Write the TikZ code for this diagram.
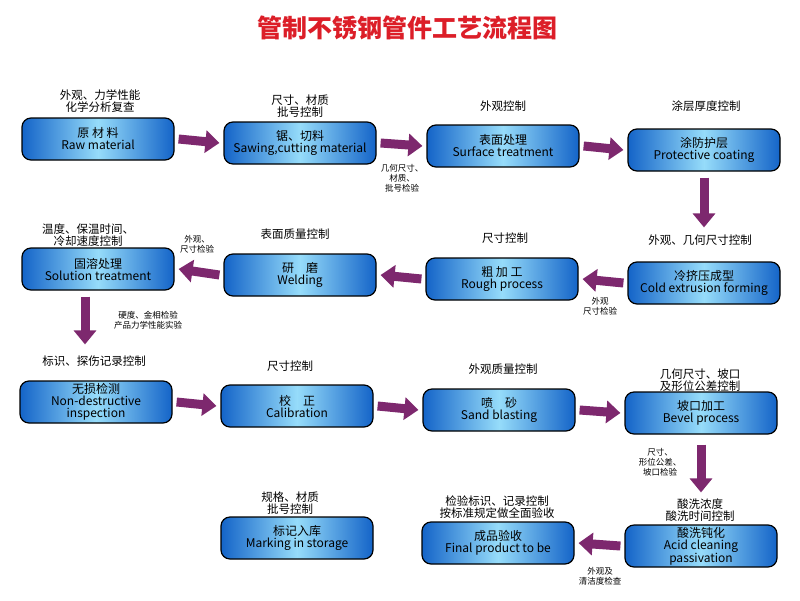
\documentclass[tikz,border=0pt]{standalone}
\usepackage{fontspec}
\setmainfont{Noto Sans CJK SC}
\usetikzlibrary{arrows.meta}
\definecolor{bdark}{RGB}{20,100,200}
\definecolor{blight}{RGB}{150,220,250}
\definecolor{purp}{RGB}{125,40,110}
\definecolor{ttl}{RGB}{220,30,40}
\tikzset{
  box/.style={draw=black,line width=1.2pt,rounded corners=9pt,minimum width=152pt,minimum height=42pt,
    left color=bdark,right color=bdark,middle color=blight,align=center,font=\fontsize{12}{12}\selectfont,inner sep=1pt},
  lab/.style={align=center,font=\fontsize{11.5}{12}\selectfont},
  sml/.style={align=center,font=\fontsize{8.5}{10}\selectfont},
  fat/.style={draw=purp,line width=9pt,-{Triangle[width=22pt,length=14pt]}}
}
\begin{document}
\begin{tikzpicture}[x=1pt,y=-1pt]
\useasboundingbox[fill=white] (0,0) rectangle (800,600);
\node[font=\fontsize{25}{26}\selectfont\bfseries,text=ttl] (t) at (407,28) {管制不锈钢管件工艺流程图};
% row 1
\node[box] (a1) at (98,139) {原 材 料\\Raw material};
\node[box] (a2) at (300,143) {锯、切料\\Sawing,cutting material};
\node[box] (a3) at (503,146) {表面处理\\Surface treatment};
\node[box] (a4) at (704,150) {涂防护层\\Protective coating};
% row 2
\node[box] (b1) at (98,269) {固溶处理\\Solution treatment};
\node[box] (b2) at (300,275) {研　磨\\Welding};
\node[box] (b3) at (502,279) {粗 加 工\\Rough process};
\node[box] (b4) at (704,283) {冷挤压成型\\Cold extrusion forming};
% row 3
\node[box] (c1) at (96,402) {无损检测\\Non-destructive\\inspection};
\node[box] (c2) at (297,406) {校　正\\Calibration};
\node[box] (c3) at (499,410) {喷　砂\\Sand blasting};
\node[box] (c4) at (701,413) {坡口加工\\Bevel process};
% row 4
\node[box] (d1) at (297,538) {标记入库\\Marking in storage};
\node[box] (d2) at (498,543) {成品验收\\Final product to be};
\node[box] (d3) at (701,546) {酸洗钝化\\Acid cleaning\\passivation};
% arrows
\draw[fat] ([xshift=4]a1.east) -- ([xshift=-4]a2.west);
\draw[fat] ([xshift=4]a2.east) -- ([xshift=-4]a3.west);
\draw[fat] ([xshift=4]a3.east) -- ([xshift=-4]a4.west);
\draw[fat] ([yshift=-6]a4.south) -- ([yshift=34]b4.north);
\draw[fat] ([xshift=-4]b4.west) -- ([xshift=4]b3.east);
\draw[fat] ([xshift=-4]b3.west) -- ([xshift=4]b2.east);
\draw[fat] ([xshift=-4]b2.west) -- ([xshift=4]b1.east);
\draw[fat] ([xshift=-13,yshift=-6]b1.south) -- ([xshift=-11,yshift=36]c1.north);
\draw[fat] ([xshift=4]c1.east) -- ([xshift=-4]c2.west);
\draw[fat] ([xshift=4]c2.east) -- ([xshift=-4]c3.west);
\draw[fat] ([xshift=4]c3.east) -- ([xshift=-4]c4.west);
\draw[fat] ([yshift=-10]c4.south) -- ([yshift=32]d3.north);
\draw[fat] ([xshift=-4]d3.west) -- ([xshift=4]d2.east);
% labels
\node[lab] (l1) at (100,101) {外观、力学性能\\化学分析复查};
\node[lab] (l2) at (300,106) {尺寸、材质\\批号控制};
\node[lab] (l3) at (503,106) {外观控制};
\node[lab] (l4) at (706,106) {涂层厚度控制};
\node[lab] (l5) at (700,240) {外观、几何尺寸控制};
\node[lab] (l6) at (505,238) {尺寸控制};
\node[lab] (l7) at (295,234) {表面质量控制};
\node[lab] (l8) at (88,235) {温度、保温时间、\\冷却速度控制};
\node[lab] (l9) at (94,361) {标识、探伤记录控制};
\node[lab] (l10) at (290,366) {尺寸控制};
\node[lab] (l11) at (503,369) {外观质量控制};
\node[lab] (l12) at (700,380) {几何尺寸、坡口\\及形位公差控制};
\node[lab] (l13) at (700,510) {酸洗浓度\\酸洗时间控制};
\node[lab] (l14) at (497,507) {检验标识、记录控制\\按标准规定做全面验收};
\node[lab] (l15) at (290,503) {规格、材质\\批号控制};
% small labels
\node[sml] (s1) at (402,178) {几何尺寸、\\材质、\\批号检验};
\node[sml] (s2) at (197,244) {外观、\\尺寸检验};
\node[sml] (s3) at (600,306) {外观\\尺寸检验};
\node[sml] (s4) at (148,320) {硬度、金相检验\\产品力学性能实验};
\node[sml] (s5) at (660,462) {尺寸、\\形位公差、\\坡口检验};
\node[sml] (s6) at (600,576) {外观及\\清洁度检查};
\end{tikzpicture}
\end{document}
